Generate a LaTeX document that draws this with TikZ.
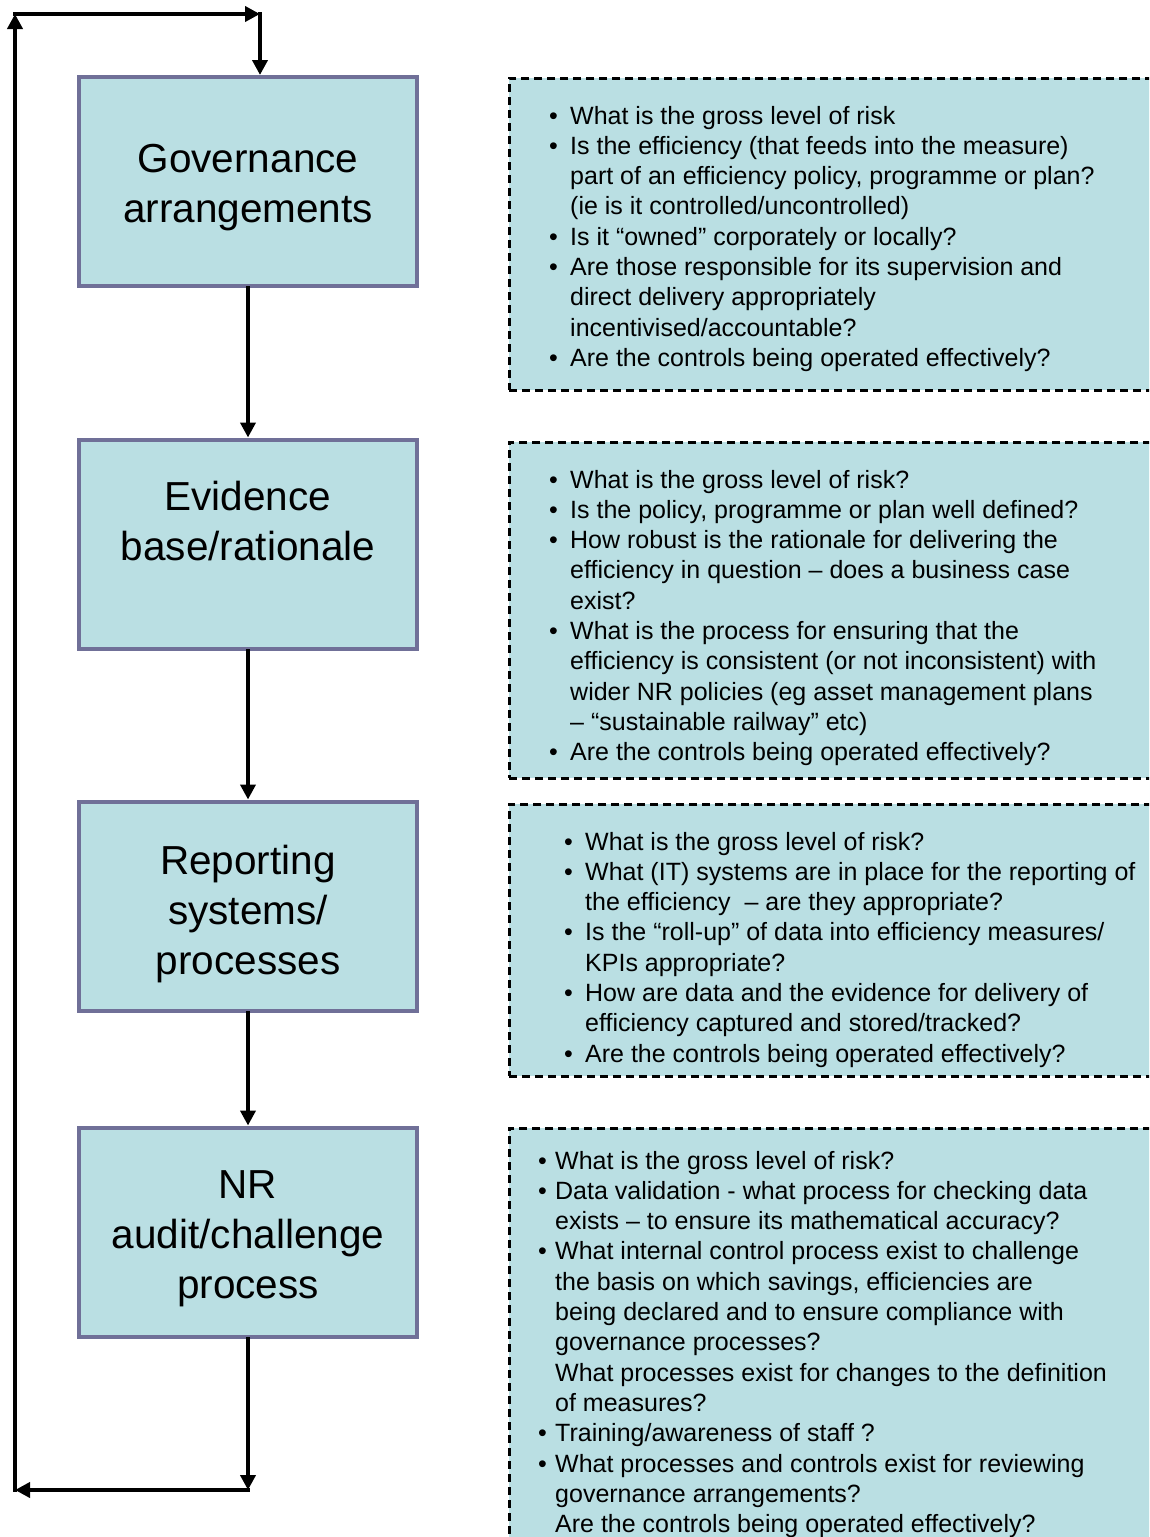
\documentclass[tikz,border=0pt]{standalone}
\usepackage{fontspec}
\setmainfont{Liberation Sans}
\usetikzlibrary{arrows.meta}

\definecolor{boxfill}{RGB}{186,223,227}
\definecolor{boxedge}{RGB}{112,112,152}

% bullet lists with a hanging indent; \nl breaks a line inside one item
\newlength{\bulletind}
\newcommand{\nl}{\hfil\break}
\newcommand{\qitem}[1]{\par\hangindent=\bulletind\hangafter=1\noindent\makebox[\bulletind][l]{•}#1}
\newcommand{\qcont}[1]{\par\hangindent=\bulletind\hangafter=0\noindent #1}
\newcommand{\qlist}[2]{\vtop{\hsize=640pt\raggedright\parindent=0pt\parskip=0pt
  \fontsize{25}{30.3}\selectfont\setlength{\bulletind}{#1}#2\par}}

\begin{document}
\begin{tikzpicture}[x=1pt,y=-1pt,
  stage/.style={draw=boxedge,line width=4pt,fill=boxfill,
    minimum width=338pt,minimum height=209pt,inner sep=0pt},
  title/.style={inner sep=0pt,align=center,font=\fontsize{40.5}{50}\selectfont},
  qbox/.style={draw=black,line width=2.5pt,dash pattern=on 8pt off 5pt,
    fill=boxfill,inner sep=0pt,anchor=north west},
  qtext/.style={anchor=base west,inner sep=0pt},
  flow/.style={line width=4pt,line cap=rect,-{Triangle[length=15pt,width=15pt]}}]
\useasboundingbox (0,0) rectangle (1149,1537);
\clip (0,0) rectangle (1149,1537);

% question panels
\node[qbox,minimum width=660pt,minimum height=312pt] (q1) at (508,77) {};
\node[qbox,minimum width=660pt,minimum height=336pt] (q2) at (508,441) {};
\node[qbox,minimum width=660pt,minimum height=272pt] (q3) at (508,803) {};
\node[qbox,minimum width=660pt,minimum height=440pt] (q4) at (508,1127) {};

\node[qtext] (q1t) at (549,124) {\qlist{21pt}{%
\qitem{What is the gross level of risk}
\qitem{Is the efficiency (that feeds into the measure)\nl part of an efficiency policy, programme or plan?\nl (ie is it controlled/uncontrolled)}
\qitem{Is it “owned” corporately or locally?}
\qitem{Are those responsible for its supervision and\nl direct delivery appropriately\nl incentivised/accountable?}
\qitem{Are the controls being operated effectively?}}};

\node[qtext] (q2t) at (549,488) {\qlist{21pt}{%
\qitem{What is the gross level of risk?}
\qitem{Is the policy, programme or plan well defined?}
\qitem{How robust is the rationale for delivering the\nl efficiency in question – does a business case\nl exist?}
\qitem{What is the process for ensuring that the\nl efficiency is consistent (or not inconsistent) with\nl wider NR policies (eg asset management plans\nl – “sustainable railway” etc)}
\qitem{Are the controls being operated effectively?}}};

\node[qtext] (q3t) at (564,850) {\qlist{21pt}{%
\qitem{What is the gross level of risk?}
\qitem{What (IT) systems are in place for the reporting of\nl the efficiency\ \ – are they appropriate?}
\qitem{Is the “roll-up” of data into efficiency measures/\nl KPIs appropriate?}
\qitem{How are data and the evidence for delivery of\nl efficiency captured and stored/tracked?}
\qitem{Are the controls being operated effectively?}}};

\node[qtext] (q4t) at (538,1169) {\qlist{17pt}{%
\qitem{What is the gross level of risk?}
\qitem{Data validation - what process for checking data\nl exists – to ensure its mathematical accuracy?}
\qitem{What internal control process exist to challenge\nl the basis on which savings, efficiencies are\nl being declared and to ensure compliance with\nl governance processes?}
\qcont{What processes exist for changes to the definition\nl of measures?}
\qitem{Training/awareness of staff ?}
\qitem{What processes and controls exist for reviewing\nl governance arrangements?}
\qcont{Are the controls being operated effectively?}}};

% process stages
\node[stage] (gov) at (248,181.5) {};
\node[stage] (evi) at (248,544) {};
\node[stage] (rep) at (248,906) {};
\node[stage] (aud) at (248,1232) {};
\node[title] (govt) at (248,187.5) {Governance\\arrangements};
\node[title] (evit) at (248,521) {Evidence\\base/rationale};
\node[title] (rept) at (248,914) {Reporting\\systems/\\processes};
\node[title] (audt) at (248,1239) {NR\\audit/challenge\\process};

% flow between stages
\draw[flow] (gov.south) -- (evi.north);
\draw[flow] (evi.south) -- (rep.north);
\draw[flow] (rep.south) -- (aud.north);

% feedback loop back to the first stage
\coordinate (lb) at (248,1490);
\coordinate (ll) at (15,1490);
\coordinate (lt) at (15,14);
\coordinate (lr) at (260,14);
\draw[flow] (aud.south) -- (lb);
\draw[flow] (lb) -- (ll);
\draw[flow] (ll) -- (lt);
\draw[flow] (lt) -- (lr);
\draw[flow] (lr) -- (lr |- gov.north);
\end{tikzpicture}
\end{document}
